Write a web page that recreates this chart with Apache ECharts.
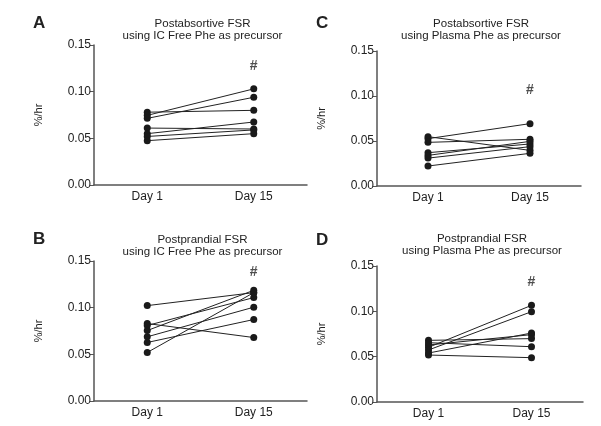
<!DOCTYPE html>
<html>
<head>
<meta charset="utf-8">
<script src="https://cdn.jsdelivr.net/npm/echarts@6/dist/echarts.min.js"></script>
<style>
  html, body { margin: 0; padding: 0; background: #fff; }
  #chart { width: 601px; height: 426px; }
</style>
</head>
<body>
<div id="chart"></div>
<script>
var categories = ['Day 1', 'Day 15'];

// each index = one subject, Day 1 -> Day 15
var aDay1  = [0.078, 0.0746, 0.0714, 0.061, 0.055, 0.052, 0.0475];
var aDay15 = [0.080, 0.103, 0.094, 0.060, 0.0675, 0.059, 0.055];
var cDay1  = [0.0526, 0.0548, 0.0485, 0.037, 0.034, 0.031, 0.0222];
var cDay15 = [0.0693, 0.0396, 0.0519, 0.0467, 0.0496, 0.0437, 0.0363];
var bDay1  = [0.1022, 0.083, 0.0809, 0.0755, 0.0688, 0.0627, 0.052];
var bDay15 = [0.1161, 0.068, 0.1108, 0.1186, 0.1005, 0.0873, 0.1161];
var dDay1  = [0.0603, 0.0574, 0.054, 0.0629, 0.068, 0.0654, 0.0518];
var dDay15 = [0.1066, 0.0996, 0.0761, 0.0743, 0.0699, 0.061, 0.0489];

// where the "#" sits above Day 15 in each panel
var hashY = [0.127, 0.107, 0.138, 0.132];

var panels = [
  { letter: 'A', t1: 'Postabsortive FSR', t2: 'using IC Free Phe as precursor', d1: aDay1, d15: aDay15,
    grid: { left: 94, top: 45, width: 213, height: 140 }, titleTop: 18, letterTop: 15 },
  { letter: 'C', t1: 'Postabsortive FSR', t2: 'using Plasma Phe as precursor', d1: cDay1, d15: cDay15,
    grid: { left: 377, top: 51, width: 204, height: 135 }, titleTop: 18, letterTop: 15 },
  { letter: 'B', t1: 'Postprandial FSR', t2: 'using IC Free Phe as precursor', d1: bDay1, d15: bDay15,
    grid: { left: 94, top: 261, width: 213, height: 140 }, titleTop: 234, letterTop: 231 },
  { letter: 'D', t1: 'Postprandial FSR', t2: 'using Plasma Phe as precursor', d1: dDay1, d15: dDay15,
    grid: { left: 377, top: 266, width: 206, height: 136 }, titleTop: 233, letterTop: 232 }
];

var txt = '#222';
var font = 'Liberation Sans, Arial, sans-serif';

var grids = [], xAxes = [], yAxes = [], series = [], titles = [];
panels.forEach(function (p, k) {
  grids.push(p.grid);
  xAxes.push({
    type: 'category', gridIndex: k, data: categories, boundaryGap: true,
    axisLine: { lineStyle: { color: '#555', width: 1.5 } },
    axisTick: { alignWithLabel: true, length: 4, lineStyle: { color: '#555' } },
    axisLabel: { color: txt, fontSize: 12, fontFamily: font, margin: 6 }
  });
  yAxes.push({
    type: 'value', gridIndex: k, min: 0, max: 0.15, interval: 0.05,
    name: '%/hr', nameLocation: 'middle', nameGap: 50,
    nameTextStyle: { color: txt, fontSize: 11, fontFamily: font },
    splitLine: { show: false },
    axisLine: { show: true, lineStyle: { color: '#555', width: 1.5 } },
    axisTick: { show: true, length: 4, lineStyle: { color: '#555' } },
    axisLabel: { color: txt, fontSize: 12, fontFamily: font, margin: 3,
      formatter: function (v) { return v.toFixed(2); } }
  });
  p.d1.forEach(function (v, i) {
    series.push({
      type: 'line', xAxisIndex: k, yAxisIndex: k,
      data: [v, p.d15[i]],
      symbol: 'circle', symbolSize: 7, silent: true,
      lineStyle: { color: '#222', width: 1 },
      itemStyle: { color: '#1a1a1a' }
    });
  });
  series.push({
    type: 'scatter', xAxisIndex: k, yAxisIndex: k,
    data: [['Day 15', hashY[k]]], symbolSize: 0, silent: true,
    label: { show: true, position: 'inside', formatter: '#', color: txt,
      fontSize: 14, fontWeight: 'bold', fontFamily: font }
  });
  var cx = p.grid.left + p.grid.width / 2 + 2;
  titles.push({
    text: p.t1 + '\n' + p.t2, left: cx, top: p.titleTop, textAlign: 'center', padding: 0,
    textStyle: { color: txt, fontSize: 11.5, fontWeight: 'normal', fontFamily: font, lineHeight: 12 }
  });
  titles.push({
    text: p.letter, left: p.grid.left - 61, top: p.letterTop, padding: 0,
    textStyle: { color: txt, fontSize: 17, fontWeight: 'bold', fontFamily: font }
  });
});

var chart = echarts.init(document.getElementById('chart'));
chart.setOption({
  animation: false,
  backgroundColor: '#fff',
  title: titles,
  grid: grids,
  xAxis: xAxes,
  yAxis: yAxes,
  series: series
});
</script>
</body>
</html>
